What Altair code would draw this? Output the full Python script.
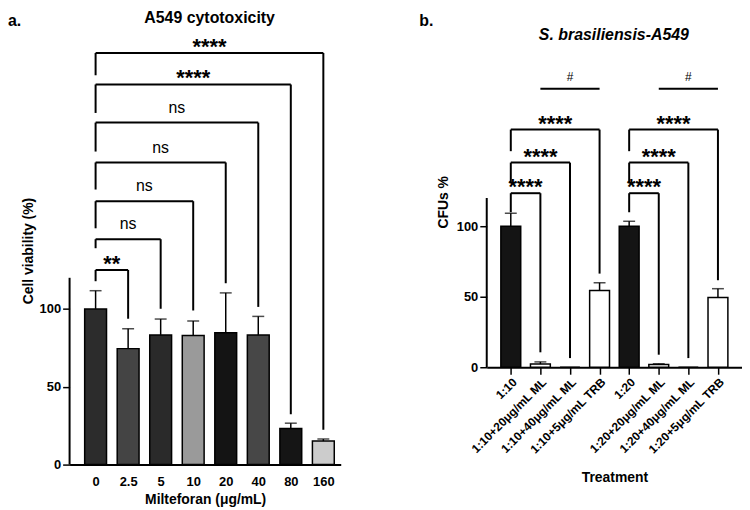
import json
import altair as alt
import pandas as pd

FONT = "Liberation Sans"

# ---------------- data: panel a ----------------
doses = ["0", "2.5", "5", "10", "20", "40", "80", "160"]
viability = [100, 74.5, 83.3, 83.0, 84.7, 83.3, 23.2, 15.1]
viability_sd = [11.7, 12.8, 10.2, 9.2, 25.6, 11.9, 3.4, 1.3]

a_ref = ["0"] * 7
a_cmp = ["2.5", "5", "10", "20", "40", "80", "160"]
a_sig = ["**", "ns", "ns", "ns", "ns", "****", "****"]
a_level = [125, 144.8, 169.2, 194.1, 219.7, 244.2, 264.4]
a_leg_ref = [117.8, 139, 151.8, 176.7, 201.1, 225.9, 250.1]
a_leg_cmp = [93.7, 100.1, 99, 116.5, 101.3, 32.4, 22.4]

# ---------------- data: panel b ----------------
treatments = ["1:10", "1:10+20μg/mL ML", "1:10+40μg/mL ML", "1:10+5μg/mL TRB",
              "1:20", "1:20+20μg/mL ML", "1:20+40μg/mL ML", "1:20+5μg/mL TRB"]
cfu = [100, 2.3, 0, 54.4, 100, 2.0, 0, 49.4]
cfu_sd = [9.2, 1.5, 0, 5.5, 3.5, 0.5, 0, 6.3]

b_ref = ["1:10", "1:10", "1:10", "1:20", "1:20", "1:20"]
b_cmp = ["1:10+20μg/mL ML", "1:10+40μg/mL ML", "1:10+5μg/mL TRB",
         "1:20+20μg/mL ML", "1:20+40μg/mL ML", "1:20+5μg/mL TRB"]
b_sig = ["****"] * 6
b_level = [123.4, 145.1, 168.5, 123.4, 145.1, 168.5]
b_leg_ref = [109.9, 131, 153.2, 109.9, 131, 153.2]
b_leg_cmp = [10.6, 6.5, 66.4, 8.9, 6.5, 61.7]

h_from = ["1:10+20μg/mL ML", "1:20+20μg/mL ML"]
h_to = ["1:10+5μg/mL TRB", "1:20+5μg/mL TRB"]
h_sig = ["#", "#"]
h_level = [197.4, 197.4]

axis_top = 120

# ---------------- styles ----------------
colors_a = ["#2c2c2c", "#444444", "#2a2a2a", "#9a9a9a", "#141414", "#474747", "#151515", "#cccccc"]
colors_b = ["#141414", "#ffffff", "#ffffff", "#ffffff", "#141414", "#ffffff", "#ffffff", "#ffffff"]


def bar_df(cats, vals, sds, colors):
    return pd.DataFrame({"cat": cats, "idx": list(range(len(cats))), "v": vals,
                         "hi": [v + s for v, s in zip(vals, sds)], "fill": colors})


def bracket_df(cats, ref, cmp_, sig, level, leg1, leg2):
    pos = {c: i for i, c in enumerate(cats)}
    return pd.DataFrame({"x1": [pos[r] for r in ref], "x2": [pos[c] for c in cmp_],
                         "sig": sig, "level": level, "leg1": leg1, "leg2": leg2})


def panel(cats, vals, sds, colors, brackets, xdom, ydom, width, height, bar_size,
          xaxis, ytitle, ytitle_pad, title, title_style, title_x, title_y,
          letter, letter_x, letter_y, extra=None):
    df = bar_df(cats, vals, sds, colors)
    xs = alt.Scale(domain=xdom, nice=False, zero=False)
    ys = alt.Scale(domain=ydom, nice=False, zero=False)
    yaxis = alt.Axis(values=[0, 50, 100], domain=False, grid=False, title=ytitle,
                     tickSize=7, tickWidth=1.5, tickColor="black", labelPadding=2,
                     labelFontSize=13, labelFontWeight="bold", labelColor="black",
                     labelFont=FONT, titleFont=FONT, titleFontSize=14,
                     titleFontWeight="bold", titleColor="black", titlePadding=ytitle_pad)

    def X(field):
        return alt.X(field, scale=xs, axis=xaxis)

    def Y(field):
        return alt.Y(field, scale=ys, axis=yaxis)

    bars = alt.Chart(df).mark_bar(orient="vertical", size=bar_size, stroke="black",
                                  strokeWidth=1.5).encode(
        x=X("idx:Q"), y=Y("v:Q"),
        fill=alt.Fill("fill:N", scale=None),
    )
    err = alt.Chart(df).transform_filter("datum.hi > datum.v")
    err_line = err.mark_rule(color="black", strokeWidth=1.5).encode(
        x=X("idx:Q"), y=Y("v:Q"), y2="hi:Q")
    err_cap = err.mark_tick(orient="horizontal", size=12, thickness=1.5, color="black").encode(
        x=X("idx:Q"), y=Y("hi:Q"))
    yline = alt.Chart(pd.DataFrame({"a": [0], "b": [axis_top]})).mark_rule(
        color="black", strokeWidth=2).encode(
        x=alt.value(0), y=Y("a:Q"), y2="b:Q")

    bc = alt.Chart(brackets)
    hz = bc.mark_rule(color="black", strokeWidth=2).encode(
        x=X("x1:Q"), x2="x2:Q", y=Y("level:Q"))
    l1 = bc.mark_rule(color="black", strokeWidth=2).encode(
        x=X("x1:Q"), y=Y("leg1:Q"), y2="level:Q")
    l2 = bc.mark_rule(color="black", strokeWidth=2).encode(
        x=X("x2:Q"), y=Y("leg2:Q"), y2="level:Q")
    lab = bc.transform_calculate(xm="(datum.x1 + datum.x2) / 2")
    stars = lab.transform_filter("datum.sig != 'ns'").mark_text(
        font=FONT, fontSize=22, fontWeight="bold", baseline="alphabetic", dy=1,
        color="black").encode(x=X("xm:Q"), y=Y("level:Q"), text="sig:N")
    ns = lab.transform_filter("datum.sig == 'ns'").mark_text(
        font=FONT, fontSize=16, baseline="alphabetic", dy=-10, color="black").encode(
        x=X("xm:Q"), y=Y("level:Q"), text="sig:N")
    letter_mark = alt.Chart(pd.DataFrame({"t": [letter]})).mark_text(
        font=FONT, fontSize=16, fontWeight="bold", align="left", baseline="middle",
        color="black").encode(x=alt.value(letter_x), y=alt.value(letter_y), text="t:N")
    title_mark = alt.Chart(pd.DataFrame({"t": [title]})).mark_text(
        font=FONT, fontSize=16, fontWeight="bold", fontStyle=title_style,
        align="center", baseline="middle", color="black").encode(
        x=alt.value(title_x), y=alt.value(title_y), text="t:N")

    layers = [bars, err_line, err_cap, yline, hz, l1, l2, stars, ns, letter_mark, title_mark]
    if extra is not None:
        layers += extra(X, Y)
    return alt.layer(*layers).properties(width=width, height=height)


# ---------- panel a ----------
labels_a = json.dumps(doses)
xaxis_a = alt.Axis(values=list(range(8)), labelExpr=f"{labels_a}[datum.value]",
                   title="Milteforan (μg/mL)", ticks=False, tickSize=0, grid=False,
                   labelOverlap=False, labelFlush=False, labelBound=False,
                   domainWidth=2, domainColor="black", labelPadding=11, titlePadding=4,
                   labelFontSize=13, labelFontWeight="bold", labelColor="black",
                   labelFont=FONT, titleFont=FONT, titleFontSize=14,
                   titleFontWeight="bold", titleColor="black")
br_a = bracket_df(doses, a_ref, a_cmp, a_sig, a_level, a_leg_ref, a_leg_cmp)
left = panel(doses, viability, viability_sd, colors_a, br_a,
             xdom=[-0.647, 7.382], ydom=[0, 275], width=273, height=431, bar_size=22,
             xaxis=xaxis_a, ytitle="Cell viability (%)", ytitle_pad=4,
             title="A549 cytotoxicity", title_style="normal", title_x=141, title_y=-19,
             letter="a.", letter_x=-62, letter_y=-16)

# ---------- panel b ----------
labels_b = json.dumps(treatments, ensure_ascii=False)
xaxis_b = alt.Axis(values=list(range(8)), labelExpr=f"{labels_b}[datum.value]",
                   title="Treatment", tickSize=7, tickWidth=1.5, tickColor="black",
                   labelOverlap=False, labelFlush=False, labelBound=False,
                   grid=False, domainWidth=2, domainColor="black", labelAngle=-45,
                   labelAlign="right", labelBaseline="top", labelPadding=2,
                   titlePadding=15, labelFontSize=12, labelFontWeight="bold",
                   labelColor="black", labelFont=FONT, titleFont=FONT,
                   titleFontSize=14, titleFontWeight="bold", titleColor="black")
br_b = bracket_df(treatments, b_ref, b_cmp, b_sig, b_level, b_leg_ref, b_leg_cmp)
pos_b = {c: i for i, c in enumerate(treatments)}
df_h = pd.DataFrame({"x1": [pos_b[c] for c in h_from], "x2": [pos_b[c] for c in h_to],
                     "sig": h_sig, "level": h_level})


def hash_layers(X, Y):
    hc = alt.Chart(df_h)
    line = hc.mark_rule(color="black", strokeWidth=2).encode(
        x=X("x1:Q"), x2="x2:Q", y=Y("level:Q"))
    txt = hc.transform_calculate(xm="(datum.x1 + datum.x2) / 2").mark_text(
        font=FONT, fontSize=12, baseline="alphabetic", dy=-8, color="black").encode(
        x=X("xm:Q"), y=Y("level:Q"), text="sig:N")
    return [line, txt]


right = panel(treatments, cfu, cfu_sd, colors_b, br_b,
              xdom=[-0.645, 7.645], ydom=[0, 234.5], width=257, height=333, bar_size=20,
              xaxis=xaxis_b, ytitle="CFUs %", ytitle_pad=6,
              title="S. brasiliensis-A549", title_style="italic", title_x=128, title_y=-1,
              letter="b.", letter_x=-68, letter_y=-16, extra=hash_layers)

chart = alt.hconcat(left, right, spacing=147, bounds="flush").properties(
    padding=0).configure_view(stroke=None)

chart.save("out.html", embed_options={"renderer": "svg", "actions": False})
